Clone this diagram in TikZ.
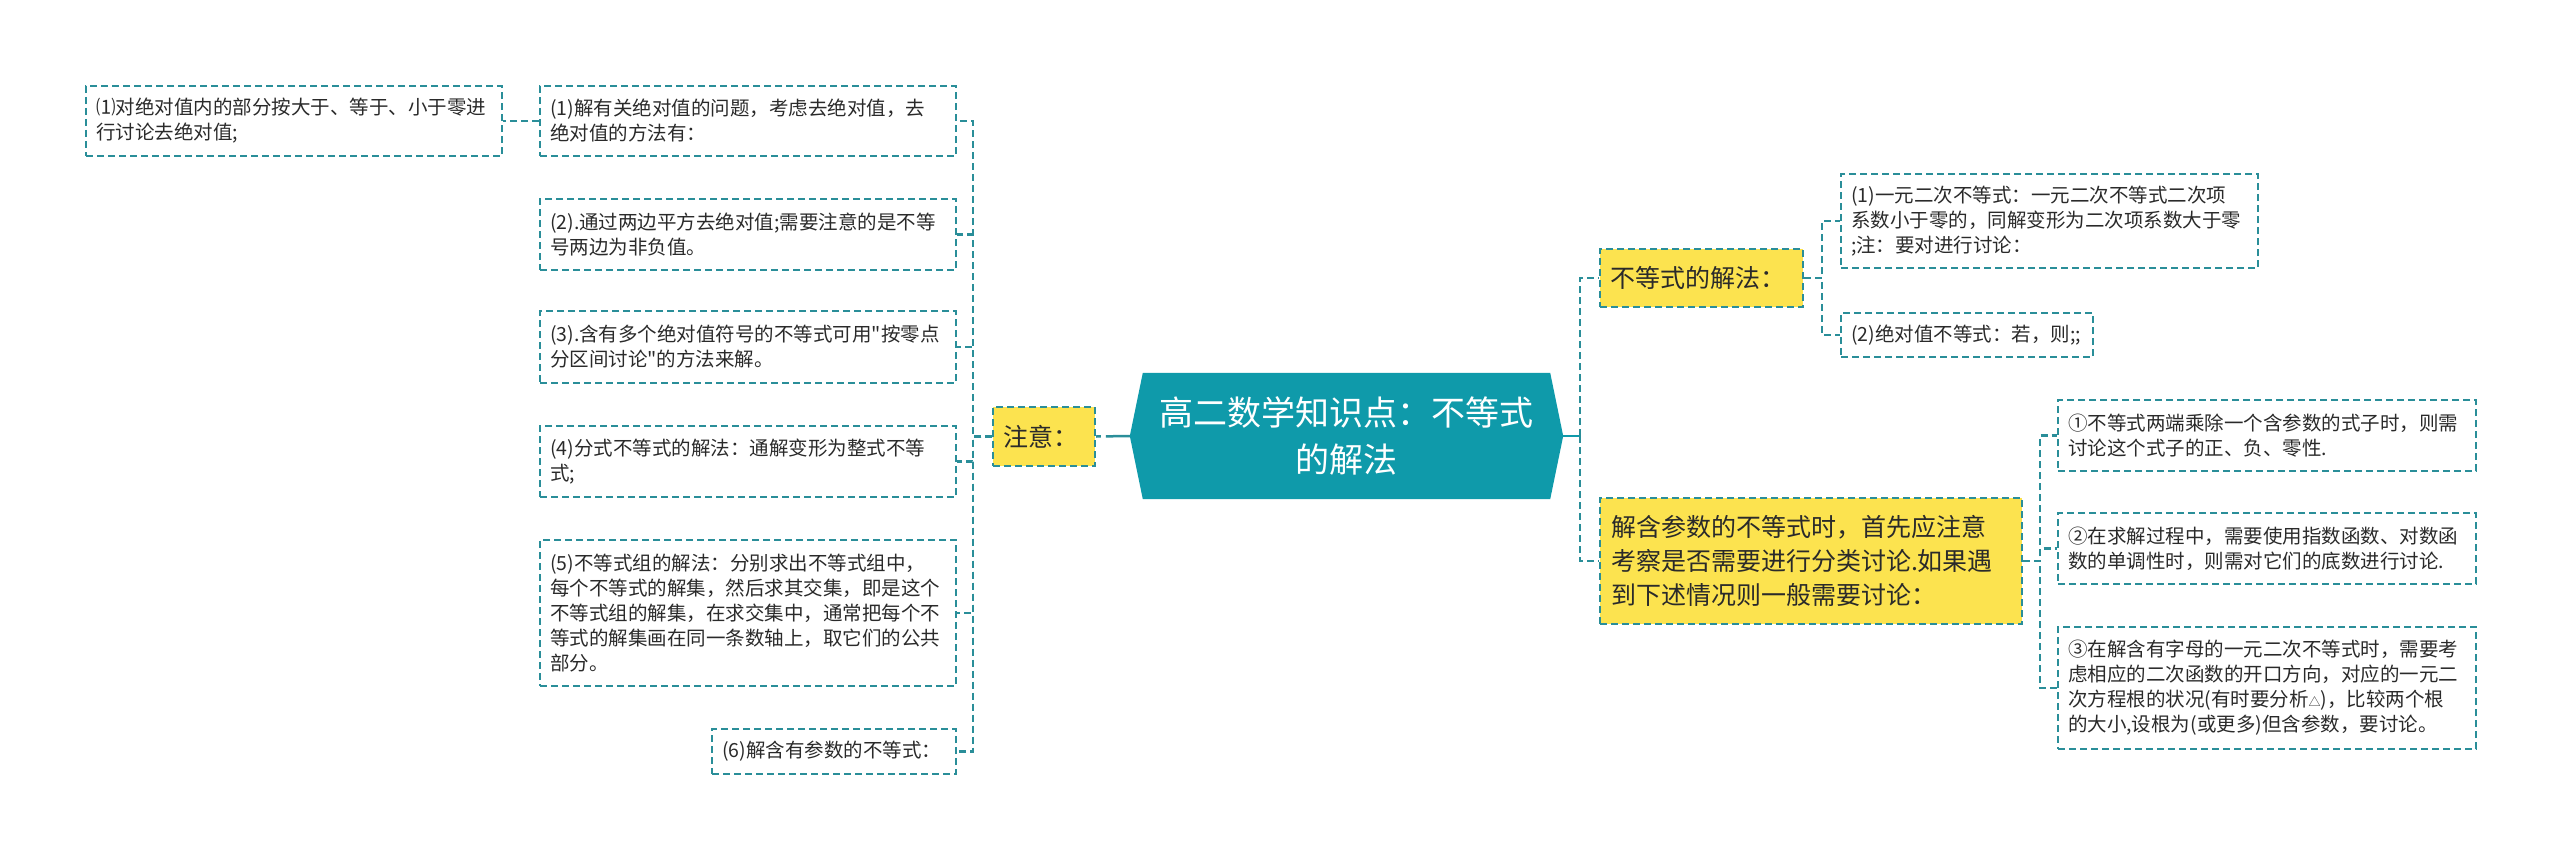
\documentclass[tikz,border=0pt]{standalone}
\usepackage{fontspec}
\setmainfont{Noto Sans CJK SC}[Ligatures=TeXOff]
\usetikzlibrary{backgrounds}
\definecolor{bordc}{HTML}{2A8E99}
\definecolor{hexc}{HTML}{0F9AAA}
\definecolor{yel}{HTML}{FCE34F}
\definecolor{txt}{HTML}{2A2A2A}
\begin{document}
\begin{tikzpicture}[x=1pt,y=-1pt,
  sbox/.style={draw=bordc, line width=2pt, dash pattern=on 7pt off 4pt, anchor=north west,
    inner xsep=10pt, inner ysep=0pt, align=left, text=txt, font=\fontsize{19.5}{25}\selectfont},
  ybox/.style={sbox, fill=yel, font=\fontsize{25}{34}\selectfont},
  conn/.style={draw=bordc, line width=2.5pt, dash pattern=on 7pt off 4pt},
  solidc/.style={draw=hexc, line width=2.5pt}
]
\useasboundingbox (0,0) rectangle (2560,859);

% central node
\node[minimum width=433pt, minimum height=126pt, inner sep=0pt, align=center, text=white,
  font=\fontsize{34}{47}\selectfont] (c) at (1346.5,436) {高二数学知识点：不等式\\的解法};
\begin{pgfonlayer}{background}
\fill[hexc] (c.west) -- ([xshift=13pt]c.north west) -- ([xshift=-13pt]c.north east) -- (c.east)
  -- ([xshift=-13pt]c.south east) -- ([xshift=13pt]c.south west) -- cycle;
\end{pgfonlayer}

% left branch
\node[ybox, minimum width=102pt, minimum height=59pt, text width=82pt] (zy) at (992,406) {注意：};
\node[sbox, minimum height=70pt, text width=396pt] (a1) at (539,85) {(1)解有关绝对值的问题，考虑去绝对值，去\\绝对值的方法有：};
\node[sbox, minimum height=71pt, text width=396pt] (a2) at (539,198) {(2).通过两边平方去绝对值;需要注意的是不等\\号两边为非负值。};
\node[sbox, minimum height=72pt, text width=396pt] (a3) at (539,310) {(3).含有多个绝对值符号的不等式可用"按零点\\分区间讨论"的方法来解。};
\node[sbox, minimum height=71pt, text width=396pt] (a4) at (539,425) {(4)分式不等式的解法：通解变形为整式不等\\式;};
\node[sbox, minimum height=146pt, text width=396pt] (a5) at (539,539) {(5)不等式组的解法：分别求出不等式组中，\\每个不等式的解集，然后求其交集，即是这个\\不等式组的解集，在求交集中，通常把每个不\\等式的解集画在同一条数轴上，取它们的公共\\部分。};
\node[sbox, minimum height=45pt, text width=224pt] (a6) at (711,728) {(6)解含有参数的不等式：};
\node[sbox, minimum height=70pt, text width=396pt] (l0) at (85,85) {⑴对绝对值内的部分按大于、等于、小于零进\\行讨论去绝对值;};

% right branch
\node[ybox, minimum width=203pt, minimum height=58pt, text width=183pt] (b1) at (1599,248) {不等式的解法：};
\node[sbox, minimum height=94pt, text width=397pt] (r1) at (1840,173) {(1)一元二次不等式：一元二次不等式二次项\\系数小于零的，同解变形为二次项系数大于零\\;注：要对进行讨论：};
\node[sbox, minimum height=44pt, text width=232pt] (r2) at (1840,312) {(2)绝对值不等式：若，则;;};
\node[ybox, minimum width=422pt, minimum height=126pt, text width=400pt, inner xsep=11pt] (b2) at (1599,497) {解含参数的不等式时，首先应注意\\考察是否需要进行分类讨论.如果遇\\到下述情况则一般需要讨论：};
\node[sbox, minimum height=71pt, text width=398pt] (s1) at (2057,399) {①不等式两端乘除一个含参数的式子时，则需\\讨论这个式子的正、负、零性.};
\node[sbox, minimum height=71pt, text width=398pt] (s2) at (2057,512) {②在求解过程中，需要使用指数函数、对数函\\数的单调性时，则需对它们的底数进行讨论.};
\node[sbox, minimum height=122pt, text width=398pt] (s3) at (2057,626) {③在解含有字母的一元二次不等式时，需要考\\虑相应的二次函数的开口方向，对应的一元二\\次方程根的状况(有时要分析{\fontsize{12}{12}\selectfont △})，比较两个根\\的大小,设根为(或更多)但含参数，要讨论。};

% spines
\coordinate (sl) at (973,0);
\coordinate (sr) at (1580,0);
\coordinate (sr1) at (1822,0);
\coordinate (sr2) at (2040,0);

% connectors
\draw[conn, dash pattern=on 24pt off 5pt on 7pt off 4pt] (c.west) -- (zy.east);
\foreach \t in {a1,a2,a3,a4,a5,a6}
  \draw[conn] (zy.west) -- (zy.west -| sl) |- (\t.east);
\draw[conn] (a1.west) -- (l0.east);

\draw[solidc] (c.east) -- (c.east -| sr);
\foreach \t in {b1,b2}
  \draw[conn] (c.east -| sr) |- (\t.west);
\foreach \t in {r1,r2}
  \draw[conn] (b1.east) -- (b1.east -| sr1) |- (\t.west);
\foreach \t in {s1,s2,s3}
  \draw[conn] (b2.east) -- (b2.east -| sr2) |- (\t.west);
\end{tikzpicture}
\end{document}
